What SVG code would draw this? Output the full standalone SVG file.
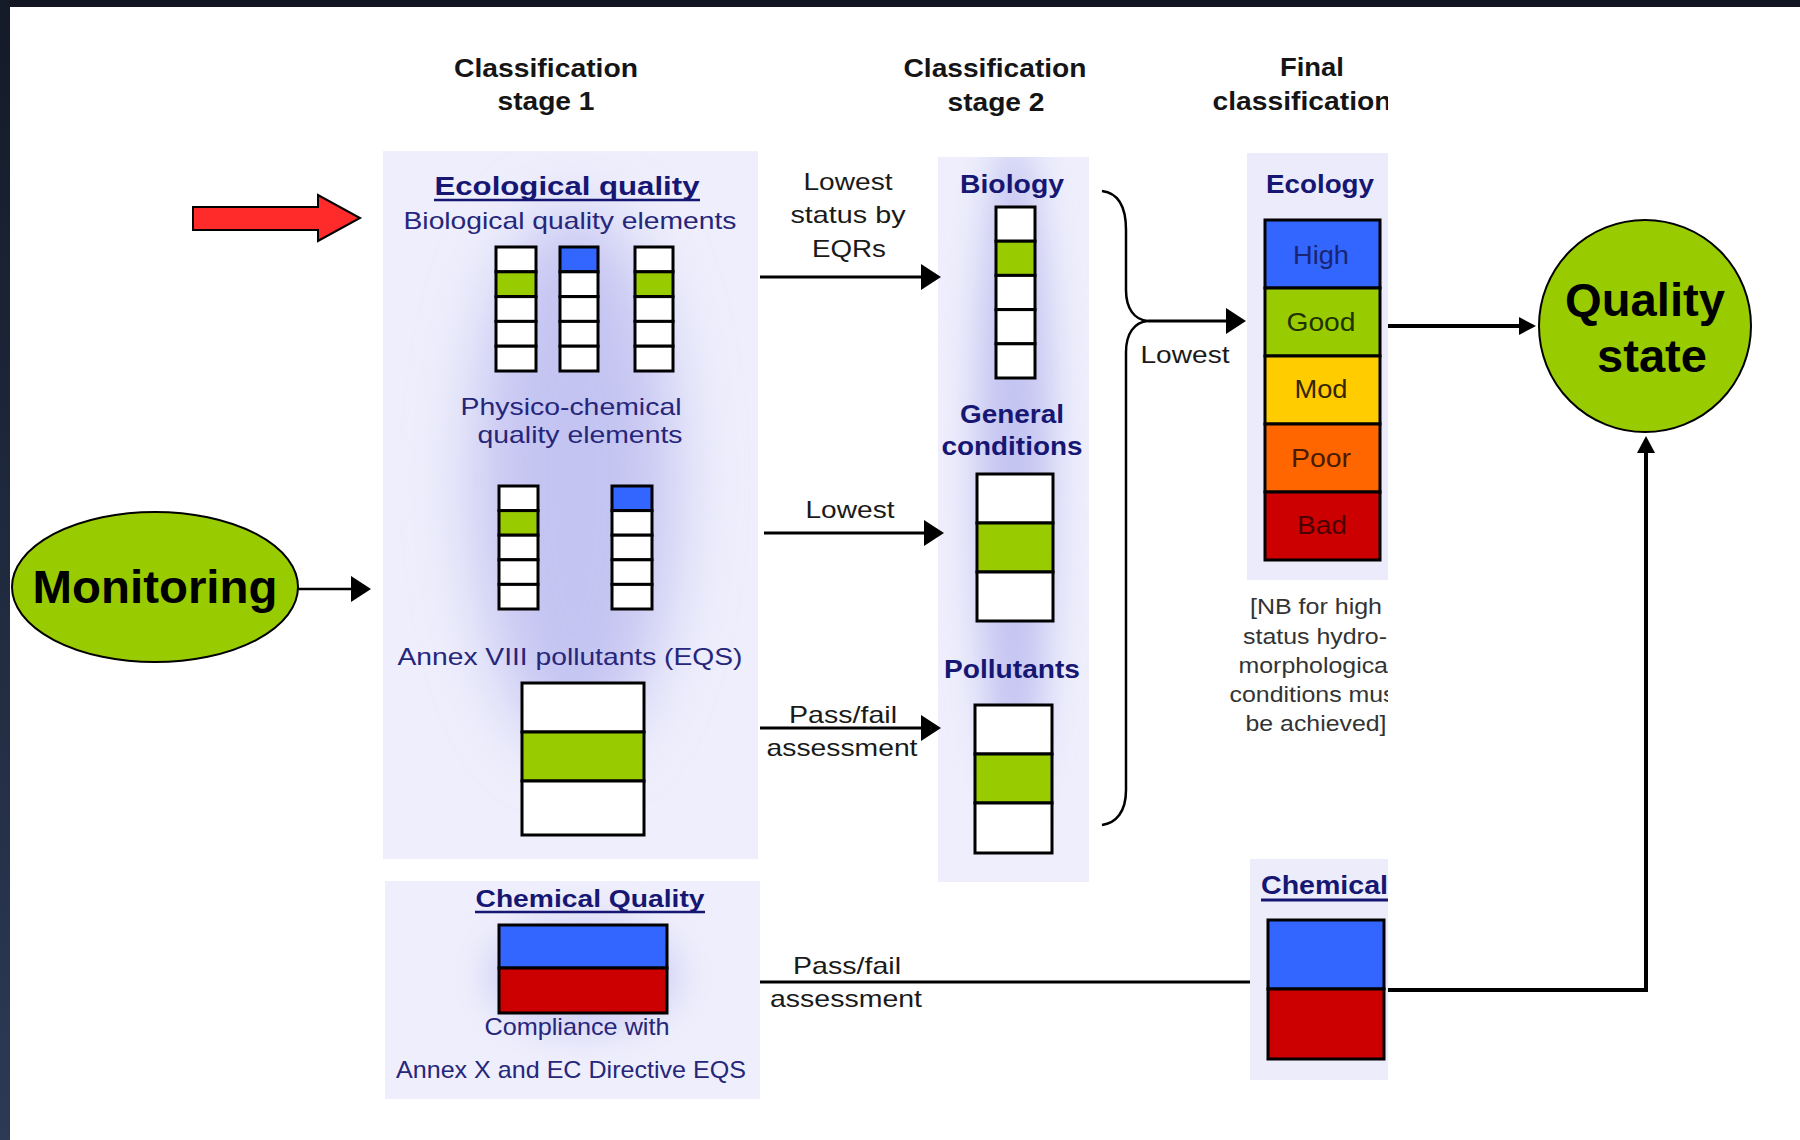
<svg xmlns="http://www.w3.org/2000/svg" width="1800" height="1140" viewBox="0 0 1800 1140">
  <defs>
    <style>
      text { font-family: "Liberation Sans", Arial, sans-serif; }
      .hd { font-size: 25px; font-weight: bold; fill: #151515; text-anchor: middle; }
      .nb { font-size: 25px; font-weight: bold; fill: #161673; text-anchor: middle; }
      .nv { font-size: 24px; fill: #26267a; text-anchor: middle; }
      .lb { font-size: 24px; fill: #1a1a1a; text-anchor: middle; }
      .st { font-size: 26px; text-anchor: middle; }
      .note { font-size: 22px; fill: #333333; text-anchor: middle; }
      .big { font-size: 47px; font-weight: bold; fill: #000; text-anchor: middle; }
      .cell { stroke: #000; stroke-width: 3; }
      .w { fill: #ffffff; }
      .g { fill: #99cc00; }
      .b { fill: #3366ff; }
      .y { fill: #ffcc00; }
      .o { fill: #ff6600; }
      .r { fill: #cc0000; }
      .panel { fill: #eeeefc; }
      .glow { fill: #c4c4f2; filter: url(#soft); }
      .ul { stroke: #161673; stroke-width: 2.5; }
      .conn { fill: none; stroke: #000; stroke-width: 3; }
      .thick { stroke-width: 4; }
      .blob { fill: #99cc00; stroke: #000; stroke-width: 2; }
    </style>
    <linearGradient id="edge" x1="0" y1="0" x2="0" y2="1">
      <stop offset="0" stop-color="#141a28"/>
      <stop offset="1" stop-color="#2c3a56"/>
    </linearGradient>
    <filter id="soft" x="-60%" y="-60%" width="220%" height="220%">
      <feGaussianBlur stdDeviation="32"/>
    </filter>
    <filter id="softer" x="-60%" y="-60%" width="220%" height="220%">
      <feGaussianBlur stdDeviation="18"/>
    </filter>
    <clipPath id="clipS1"><rect x="383" y="151" width="375" height="708"/></clipPath>
    <clipPath id="clipS2"><rect x="938" y="157" width="151" height="725"/></clipPath>
    <clipPath id="clipCQ"><rect x="385" y="881" width="375" height="218"/></clipPath>
    <clipPath id="clipFinal"><rect x="1150" y="0" width="238" height="1140"/></clipPath>
    <marker id="ah" viewBox="0 0 20 26" refX="12" refY="13" markerWidth="20" markerHeight="26" markerUnits="userSpaceOnUse" orient="auto">
      <path d="M0,0 L20,13 L0,26 z" fill="#000"/>
    </marker>
    <marker id="ahs" viewBox="0 0 17 18" refX="10" refY="9" markerWidth="17" markerHeight="18" markerUnits="userSpaceOnUse" orient="auto">
      <path d="M0,0 L17,9 L0,18 z" fill="#000"/>
    </marker>
  </defs>

  <!-- page background and dark frame edges -->
  <rect x="0" y="0" width="1800" height="1140" fill="#ffffff"/>
  <rect x="0" y="0" width="1800" height="7" fill="#121622"/>
  <rect x="0" y="0" width="10" height="1140" fill="url(#edge)"/>

  <!-- column headings -->
  <g id="headings">
    <text class="hd" x="546" y="77" textLength="184" lengthAdjust="spacingAndGlyphs">Classification</text>
    <text class="hd" x="546" y="110" textLength="97" lengthAdjust="spacingAndGlyphs">stage 1</text>
    <text class="hd" x="995" y="77" textLength="183" lengthAdjust="spacingAndGlyphs">Classification</text>
    <text class="hd" x="996" y="111" textLength="97" lengthAdjust="spacingAndGlyphs">stage 2</text>
  </g>

  <!-- red pointer arrow -->
  <g id="pointer">
    <path d="M193,207 L318,207 L318,195 L360,218 L318,241 L318,230 L193,230 z" fill="#ff2a2a" stroke="#000" stroke-width="2"/>
  </g>

  <!-- Monitoring -->
  <g id="monitoring">
    <ellipse class="blob" cx="155" cy="587" rx="143" ry="75"/>
    <text class="big" x="155" y="603" textLength="245" lengthAdjust="spacingAndGlyphs">Monitoring</text>
  </g>

  <!-- Stage 1: ecological quality -->
  <g id="ecological-quality">
    <rect class="panel" x="383" y="151" width="375" height="708"/>
    <g clip-path="url(#clipS1)">
      <ellipse class="glow" cx="575" cy="480" rx="100" ry="270"/>
    </g>
    <text class="nb" x="567" y="195" textLength="265" lengthAdjust="spacingAndGlyphs" style="font-size:26px">Ecological quality</text>
    <line class="ul" x1="434" y1="200" x2="700" y2="200"/>
    <text class="nv" x="570" y="229" textLength="333" lengthAdjust="spacingAndGlyphs">Biological quality elements</text>

    <!-- biological element bars -->
    <g class="cell">
      <rect class="w" x="496" y="247" width="40" height="24.8"/>
      <rect class="g" x="496" y="271.8" width="40" height="24.8"/>
      <rect class="w" x="496" y="296.6" width="40" height="24.8"/>
      <rect class="w" x="496" y="321.4" width="40" height="24.8"/>
      <rect class="w" x="496" y="346.2" width="40" height="24.8"/>

      <rect class="b" x="560" y="247" width="38" height="24.8"/>
      <rect class="w" x="560" y="271.8" width="38" height="24.8"/>
      <rect class="w" x="560" y="296.6" width="38" height="24.8"/>
      <rect class="w" x="560" y="321.4" width="38" height="24.8"/>
      <rect class="w" x="560" y="346.2" width="38" height="24.8"/>

      <rect class="w" x="635" y="247" width="38" height="24.8"/>
      <rect class="g" x="635" y="271.8" width="38" height="24.8"/>
      <rect class="w" x="635" y="296.6" width="38" height="24.8"/>
      <rect class="w" x="635" y="321.4" width="38" height="24.8"/>
      <rect class="w" x="635" y="346.2" width="38" height="24.8"/>
    </g>

    <text class="nv" x="571" y="415" textLength="221" lengthAdjust="spacingAndGlyphs">Physico-chemical</text>
    <text class="nv" x="580" y="443" textLength="205" lengthAdjust="spacingAndGlyphs">quality elements</text>

    <!-- physico-chemical element bars -->
    <g class="cell">
      <rect class="w" x="499" y="486" width="39" height="24.6"/>
      <rect class="g" x="499" y="510.6" width="39" height="24.6"/>
      <rect class="w" x="499" y="535.2" width="39" height="24.6"/>
      <rect class="w" x="499" y="559.8" width="39" height="24.6"/>
      <rect class="w" x="499" y="584.4" width="39" height="24.6"/>

      <rect class="b" x="612" y="486" width="40" height="24.6"/>
      <rect class="w" x="612" y="510.6" width="40" height="24.6"/>
      <rect class="w" x="612" y="535.2" width="40" height="24.6"/>
      <rect class="w" x="612" y="559.8" width="40" height="24.6"/>
      <rect class="w" x="612" y="584.4" width="40" height="24.6"/>
    </g>

    <text class="nv" x="570" y="665" textLength="345" lengthAdjust="spacingAndGlyphs">Annex VIII pollutants (EQS)</text>

    <!-- pollutant bar -->
    <g class="cell">
      <rect class="w" x="522" y="683" width="122" height="49"/>
      <rect class="g" x="522" y="732" width="122" height="49"/>
      <rect class="w" x="522" y="781" width="122" height="54"/>
    </g>
  </g>

  <!-- Stage 1: chemical quality -->
  <g id="chemical-quality">
    <rect class="panel" x="385" y="881" width="375" height="218"/>
    <g clip-path="url(#clipCQ)">
      <ellipse class="glow" cx="583" cy="975" rx="95" ry="55" style="filter:url(#softer); fill:#cdcdf4"/>
    </g>
    <text class="nb" x="590" y="907" textLength="229" lengthAdjust="spacingAndGlyphs" style="font-size:24px">Chemical Quality</text>
    <line class="ul" x1="475" y1="912" x2="705" y2="912"/>
    <g class="cell">
      <rect class="b" x="499" y="925" width="168" height="43"/>
      <rect class="r" x="499" y="968" width="168" height="45"/>
    </g>
    <text class="nv" x="577" y="1035" textLength="185" lengthAdjust="spacingAndGlyphs">Compliance with</text>
    <text class="nv" x="571" y="1078" textLength="350" lengthAdjust="spacingAndGlyphs">Annex X and EC Directive EQS</text>
  </g>

  <!-- Stage 2 -->
  <g id="stage-2">
    <rect class="panel" x="938" y="157" width="151" height="725"/>
    <g clip-path="url(#clipS2)">
      <ellipse class="glow" cx="1014" cy="470" rx="38" ry="330" style="filter:url(#softer)"/>
    </g>
    <text class="nb" x="1012" y="193" textLength="104" lengthAdjust="spacingAndGlyphs">Biology</text>
    <g class="cell">
      <rect class="w" x="996" y="207" width="39" height="34.2"/>
      <rect class="g" x="996" y="241.2" width="39" height="34.2"/>
      <rect class="w" x="996" y="275.4" width="39" height="34.2"/>
      <rect class="w" x="996" y="309.6" width="39" height="34.2"/>
      <rect class="w" x="996" y="343.8" width="39" height="34.2"/>
    </g>
    <text class="nb" x="1012" y="423" textLength="104" lengthAdjust="spacingAndGlyphs">General</text>
    <text class="nb" x="1012" y="455" textLength="141" lengthAdjust="spacingAndGlyphs">conditions</text>
    <g class="cell">
      <rect class="w" x="977" y="474" width="76" height="49"/>
      <rect class="g" x="977" y="523" width="76" height="49"/>
      <rect class="w" x="977" y="572" width="76" height="49"/>
    </g>
    <text class="nb" x="1012" y="678" textLength="136" lengthAdjust="spacingAndGlyphs">Pollutants</text>
    <g class="cell">
      <rect class="w" x="975" y="705" width="77" height="49"/>
      <rect class="g" x="975" y="754" width="77" height="49"/>
      <rect class="w" x="975" y="803" width="77" height="50"/>
    </g>
  </g>

  <!-- Final classification column (cropped on the right) -->
  <g id="final-classification" clip-path="url(#clipFinal)">
    <text class="hd" x="1312" y="76" textLength="64" lengthAdjust="spacingAndGlyphs">Final</text>
    <text class="hd" x="1302" y="110" textLength="179" lengthAdjust="spacingAndGlyphs">classification</text>

    <g id="ecology">
      <rect class="panel" x="1247" y="153" width="160" height="427" style="fill:#ebebfb"/>
      <text class="nb" x="1320" y="193" textLength="108" lengthAdjust="spacingAndGlyphs">Ecology</text>
      <g class="cell">
        <rect class="b" x="1265" y="220" width="115" height="68"/>
        <rect class="g" x="1265" y="288" width="115" height="68"/>
        <rect class="y" x="1265" y="356" width="115" height="68"/>
        <rect class="o" x="1265" y="424" width="115" height="68"/>
        <rect class="r" x="1265" y="492" width="115" height="68"/>
      </g>
      <text class="st" x="1321" y="264" textLength="56" lengthAdjust="spacingAndGlyphs" fill="#1a2470">High</text>
      <text class="st" x="1321" y="331" textLength="69" lengthAdjust="spacingAndGlyphs" fill="#1f3300">Good</text>
      <text class="st" x="1321" y="398" textLength="53" lengthAdjust="spacingAndGlyphs" fill="#332600">Mod</text>
      <text class="st" x="1321" y="467" textLength="60" lengthAdjust="spacingAndGlyphs" fill="#4a1a00">Poor</text>
      <text class="st" x="1322" y="534" textLength="50" lengthAdjust="spacingAndGlyphs" fill="#4a0000">Bad</text>
    </g>

    <g id="note">
      <text class="note" x="1316" y="614" textLength="132" lengthAdjust="spacingAndGlyphs">[NB for high</text>
      <text class="note" x="1315" y="644" textLength="144" lengthAdjust="spacingAndGlyphs">status hydro-</text>
      <text class="note" x="1316" y="673" textLength="155" lengthAdjust="spacingAndGlyphs">morphological</text>
      <text class="note" x="1316" y="702" textLength="173" lengthAdjust="spacingAndGlyphs">conditions must</text>
      <text class="note" x="1316" y="731" textLength="141" lengthAdjust="spacingAndGlyphs">be achieved]</text>
    </g>

    <g id="chemical">
      <rect class="panel" x="1250" y="859" width="150" height="221" style="fill:#ececfb"/>
      <text class="nb" x="1261" y="894" textLength="127" lengthAdjust="spacingAndGlyphs" style="text-anchor:start; font-size:26px">Chemical</text>
      <line class="ul" x1="1261" y1="900" x2="1390" y2="900" style="stroke-width:3"/>
      <g class="cell">
        <rect class="b" x="1268" y="920" width="116" height="69"/>
        <rect class="r" x="1268" y="989" width="116" height="70"/>
      </g>
    </g>
  </g>

  <!-- Quality state -->
  <g id="quality-state">
    <circle class="blob" cx="1645" cy="326" r="106"/>
    <text class="big" x="1645" y="316" textLength="160" lengthAdjust="spacingAndGlyphs">Quality</text>
    <text class="big" x="1652" y="372" textLength="110" lengthAdjust="spacingAndGlyphs">state</text>
  </g>

  <!-- connectors and their labels -->
  <g id="connectors">
    <path class="conn" d="M298,589 L363,589" marker-end="url(#ah)" style="stroke-width:2.5"/>

    <path class="conn" d="M760,277 L933,277" marker-end="url(#ah)"/>
    <text class="lb" x="848" y="190" textLength="89" lengthAdjust="spacingAndGlyphs">Lowest</text>
    <text class="lb" x="848" y="223" textLength="115" lengthAdjust="spacingAndGlyphs">status by</text>
    <text class="lb" x="849" y="257" textLength="74" lengthAdjust="spacingAndGlyphs">EQRs</text>

    <path class="conn" d="M764,533 L936,533" marker-end="url(#ah)"/>
    <text class="lb" x="850" y="518" textLength="89" lengthAdjust="spacingAndGlyphs">Lowest</text>

    <path class="conn" d="M760,728 L933,728" marker-end="url(#ah)"/>
    <text class="lb" x="843" y="723" textLength="108" lengthAdjust="spacingAndGlyphs">Pass/fail</text>
    <text class="lb" x="842" y="756" textLength="151" lengthAdjust="spacingAndGlyphs">assessment</text>

    <!-- brace gathering the three stage-2 results -->
    <path class="conn" d="M1102,191 C1118,193 1126,205 1126,230 L1126,290 C1126,308 1134,320 1148,321 C1134,322 1126,334 1126,352 L1126,790 C1126,812 1116,823 1102,825" style="stroke-width:2.5"/>
    <path class="conn" d="M1148,321 L1238,321" marker-end="url(#ah)"/>
    <text class="lb" x="1185" y="363" textLength="89" lengthAdjust="spacingAndGlyphs">Lowest</text>

    <path class="conn thick" d="M1388,326 L1529,326" marker-end="url(#ahs)"/>

    <path class="conn" d="M760,982 L1250,982"/>
    <text class="lb" x="847" y="974" textLength="108" lengthAdjust="spacingAndGlyphs">Pass/fail</text>
    <text class="lb" x="846" y="1007" textLength="152" lengthAdjust="spacingAndGlyphs">assessment</text>

    <path class="conn thick" d="M1388,990 L1646,990 L1646,443" marker-end="url(#ahs)"/>
  </g>
</svg>
